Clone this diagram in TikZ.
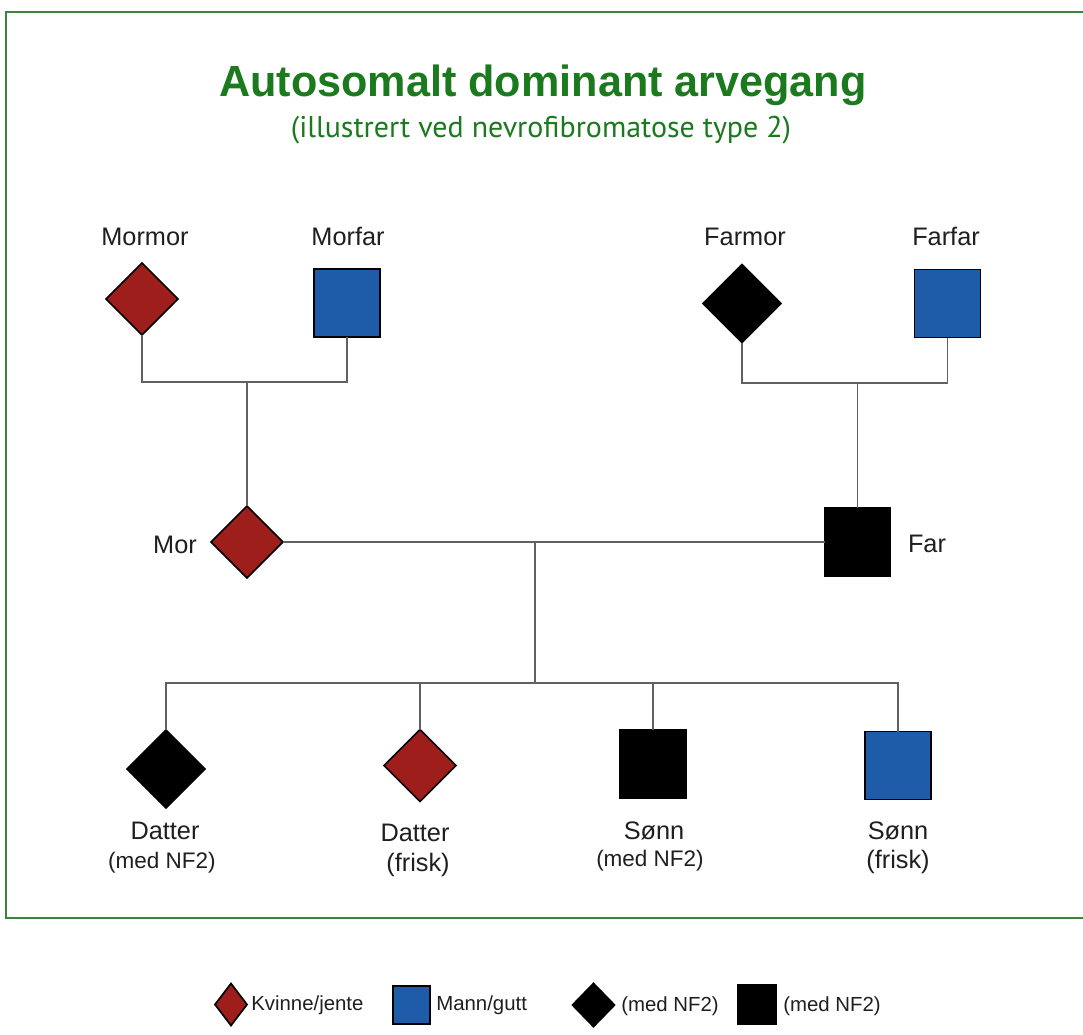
\documentclass[tikz,border=0pt]{standalone}
\usepackage{fontspec}
\setmainfont{Liberation Sans}
\newfontfamily\subfont{PT Sans}
\usetikzlibrary{shapes.geometric, positioning}

\definecolor{nfred}{RGB}{158,30,28}
\definecolor{nfblue}{RGB}{30,91,168}
\definecolor{nfgreen}{RGB}{28,122,30}
\definecolor{framegreen}{RGB}{62,132,62}

\tikzset{
  female/.style={diamond, draw=black, line width=1.2pt, inner sep=0pt, outer sep=0pt,
    minimum width=1.8cm, minimum height=1.8cm},
  male/.style={rectangle, draw=black, line width=1.2pt, inner sep=0pt, outer sep=0pt,
    minimum width=1.65cm, minimum height=1.7cm},
  link/.style={draw=black!62, line width=1.15pt},
  lbl/.style={font=\fontsize{18}{21}\selectfont, text=black!88, inner sep=0pt, anchor=base},
  sublbl/.style={font=\fontsize{16}{19}\selectfont, text=black!88, inner sep=0pt, anchor=base},
  keytxt/.style={font=\fontsize{14.5}{17}\selectfont, text=black!88, inner sep=0pt, anchor=base west},
}

\begin{document}
\begin{tikzpicture}[x=0.025cm, y=-0.025cm]
  \useasboundingbox (0,0) rectangle (1083,1034);
  \fill[white] (0,0) rectangle (1083,1034);
  \draw[framegreen, line width=1.2pt] (1083,12) -- (6,12) -- (6,918) -- (1083,918);

  % overskrift
  \node[font=\fontsize{31}{36}\selectfont\bfseries, text=nfgreen, anchor=base, inner sep=0pt, xscale=0.99]
    (title) at (543,96) {Autosomalt dominant arvegang};
  \node[font=\subfont\fontsize{21.3}{25}\selectfont, text=nfgreen, anchor=base, inner sep=0pt]
    (subtitle) at (541,137) {(illustrert ved nevrofibromatose type 2)};

  % besteforeldre
  \node[female, fill=nfred] (mormor) at (142,299) {};
  \node[male, fill=nfblue] (morfar) at (347,303) {};
  \node[female, fill=black, minimum width=1.95cm, minimum height=1.95cm] (farmor) at (742,303.5) {};
  \node[male, fill=nfblue] (farfar) at (947.5,303.5) {};

  % foreldre
  \node[female, fill=nfred] (mor) at (247,542) {};
  \node[male, fill=black] (far) at (857.5,542) {};

  % barn
  \node[female, fill=black, minimum width=1.95cm, minimum height=1.95cm] (datter1) at (166,769) {};
  \node[female, fill=nfred] (datter2) at (420,765.5) {};
  \node[male, fill=black] (sonn1) at (653,764) {};
  \node[male, fill=nfblue] (sonn2) at (898,765.5) {};

  % linjer
  \coordinate (jmor) at (247,382);
  \coordinate (jfar) at (857.5,383);
  \coordinate (jbarn) at (535,542);
  \coordinate (sib) at (535,683);

  \draw[link] (mormor.south) |- (jmor) -| (morfar.south);
  \draw[link] (jmor) -- (mor.north);
  \draw[link] (farmor.south) |- (jfar) -| (farfar.south);
  \draw[link] (jfar) -- (far.north);
  \draw[link] (mor.east) -- (far.west);
  \draw[link] (jbarn) -- (sib);
  \draw[link] (datter1.north) |- (sib) -| (sonn2.north);
  \draw[link] (datter2.north) -- (datter2.north |- sib);
  \draw[link] (sonn1.north) -- (sonn1.north |- sib);

  % navn
  \node[lbl] (tmormor) at (145,245) {Mormor};
  \node[lbl] (tmorfar) at (348,245) {Morfar};
  \node[lbl] (tfarmor) at (745,245) {Farmor};
  \node[lbl] (tfarfar) at (946,245) {Farfar};
  \node[lbl] (tmor) at (175,553) {Mor};
  \node[lbl] (tfar) at (927,552) {Far};

  \node[lbl] (tdatter1) at (165,839) {Datter};
  \node[sublbl] (sdatter1) at (162,868) {(med NF2)};
  \node[lbl] (tdatter2) at (415,841) {Datter};
  \node[lbl] (sdatter2) at (418,871) {(frisk)};
  \node[lbl] (tsonn1) at (654,839) {Sønn};
  \node[sublbl] (ssonn1) at (650,866) {(med NF2)};
  \node[lbl] (tsonn2) at (898,839) {Sønn};
  \node[lbl] (ssonn2) at (898,868) {(frisk)};

  % forklaring
  \node[female, fill=nfred, minimum width=0.8cm, minimum height=1.05cm] (kfemale) at (231,1004.5) {};
  \node[keytxt] (tkfemale) at (251,1010) {Kvinne/jente};
  \node[male, fill=nfblue, minimum width=0.93cm, minimum height=0.95cm] (kmale) at (411.5,1005) {};
  \node[keytxt] (tkmale) at (436,1010) {Mann/gutt};
  \node[female, fill=black, minimum width=1.05cm, minimum height=1.08cm] (kfemnf) at (593.5,1005) {};
  \node[keytxt] (tkfemnf) at (621,1011) {(med NF2)};
  \node[male, fill=black, minimum width=0.95cm, minimum height=0.98cm] (kmalenf) at (757,1004.5) {};
  \node[keytxt] (tkmalenf) at (783,1011) {(med NF2)};
\end{tikzpicture}
\end{document}
